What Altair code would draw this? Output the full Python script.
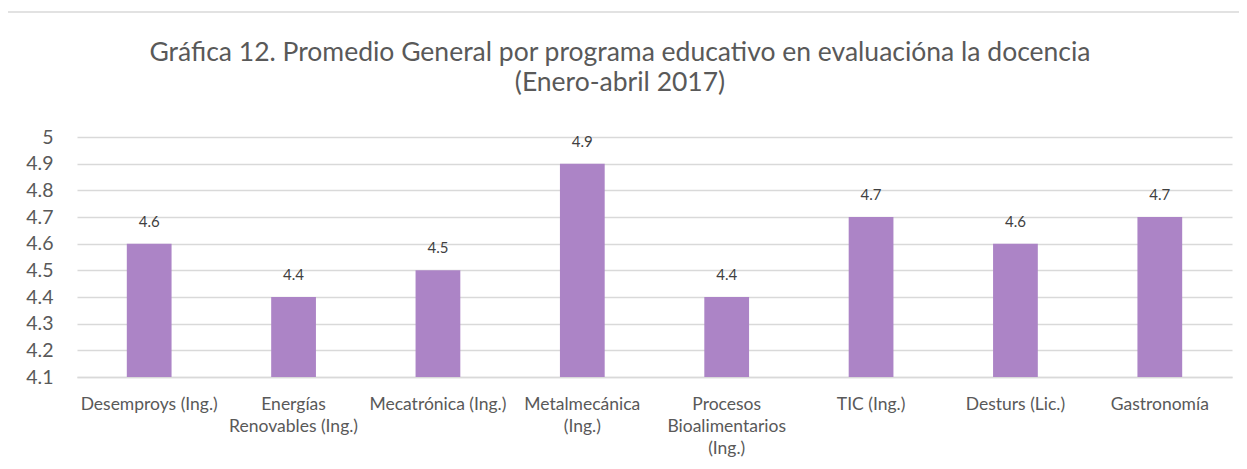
import altair as alt
import pandas as pd

categories = [
    "Desemproys (Ing.)",
    "Energías\nRenovables (Ing.)",
    "Mecatrónica (Ing.)",
    "Metalmecánica\n(Ing.)",
    "Procesos\nBioalimentarios\n(Ing.)",
    "TIC (Ing.)",
    "Desturs (Lic.)",
    "Gastronomía",
]
values = [4.6, 4.4, 4.5, 4.9, 4.4, 4.7, 4.6, 4.7]
y_ticks = [4.1, 4.2, 4.3, 4.4, 4.5, 4.6, 4.7, 4.8, 4.9, 5.0]
title_lines = [
    "Gráfica 12. Promedio General por programa educativo en evaluacióna la docencia",
    "(Enero-abril 2017)",
]

df = pd.DataFrame({"cat": categories, "val": values})
FONT = "Lato"
GREY = "#595959"

x_enc = alt.X(
    "cat:N",
    sort=None,
    title=None,
    scale=alt.Scale(paddingInner=0.69, paddingOuter=0.345),
    axis=alt.Axis(
        labelAngle=0,
        labelExpr="split(datum.label, '\\n')",
        labelFontSize=17.5,
        labelColor=GREY,
        labelFont=FONT,
        labelPadding=32,
        labelLineHeight=22,
        labelBaseline="alphabetic",
        ticks=False,
        domainColor="#d9d9d9",
        domainWidth=1.3,
        labelLimit=250,
        labelOverlap=False,
    ),
)
y_scale = alt.Scale(domain=[4.1, 5.0], zero=False, nice=False)
y_enc = alt.Y(
    "val:Q",
    scale=y_scale,
    title=None,
    axis=alt.Axis(
        values=y_ticks,
        format=".1~f",
        labelFontSize=19.5,
        labelColor=GREY,
        labelFont=FONT,
        labelPadding=24,
        labelOverlap=False,
        labelBound=False,
        labelFlush=False,
        ticks=False,
        domain=False,
        gridColor="#d9d9d9",
        gridWidth=1.3,
    ),
)

bars = alt.Chart(df).mark_bar(color="#AC84C6").encode(
    x=x_enc, y=y_enc, y2=alt.datum(4.1)
)
labels = alt.Chart(df).mark_text(
    baseline="bottom", dy=-14, fontSize=15, font=FONT, color="#404040"
).encode(
    x=x_enc,
    y=y_enc,
    text=alt.Text("val:Q", format=".1f"),
)

frame = alt.Chart(pd.DataFrame({"a": [0]})).mark_rect(
    fill=None, stroke="#d9d9d9", strokeWidth=1.5
).encode(
    x=alt.value(-70), x2=alt.value(1300), y=alt.value(-125), y2=alt.value(400)
)

title = alt.Chart(pd.DataFrame({"a": [0]})).mark_text(
    text=title_lines,
    fontSize=26.5,
    font=FONT,
    color=GREY,
    lineHeight=30,
    align="center",
    baseline="alphabetic",
).encode(x=alt.value(543), y=alt.value(-76))

chart = alt.layer(frame, title, bars, labels).properties(
    width=1155,
    height=240,
    autosize=alt.AutoSizeParams(type="none"),
    padding={"left": 69, "top": 129, "right": 7, "bottom": 84},
).configure_view(stroke=None)

chart.save("out.html", embed_options={"renderer": "svg", "actions": False})
